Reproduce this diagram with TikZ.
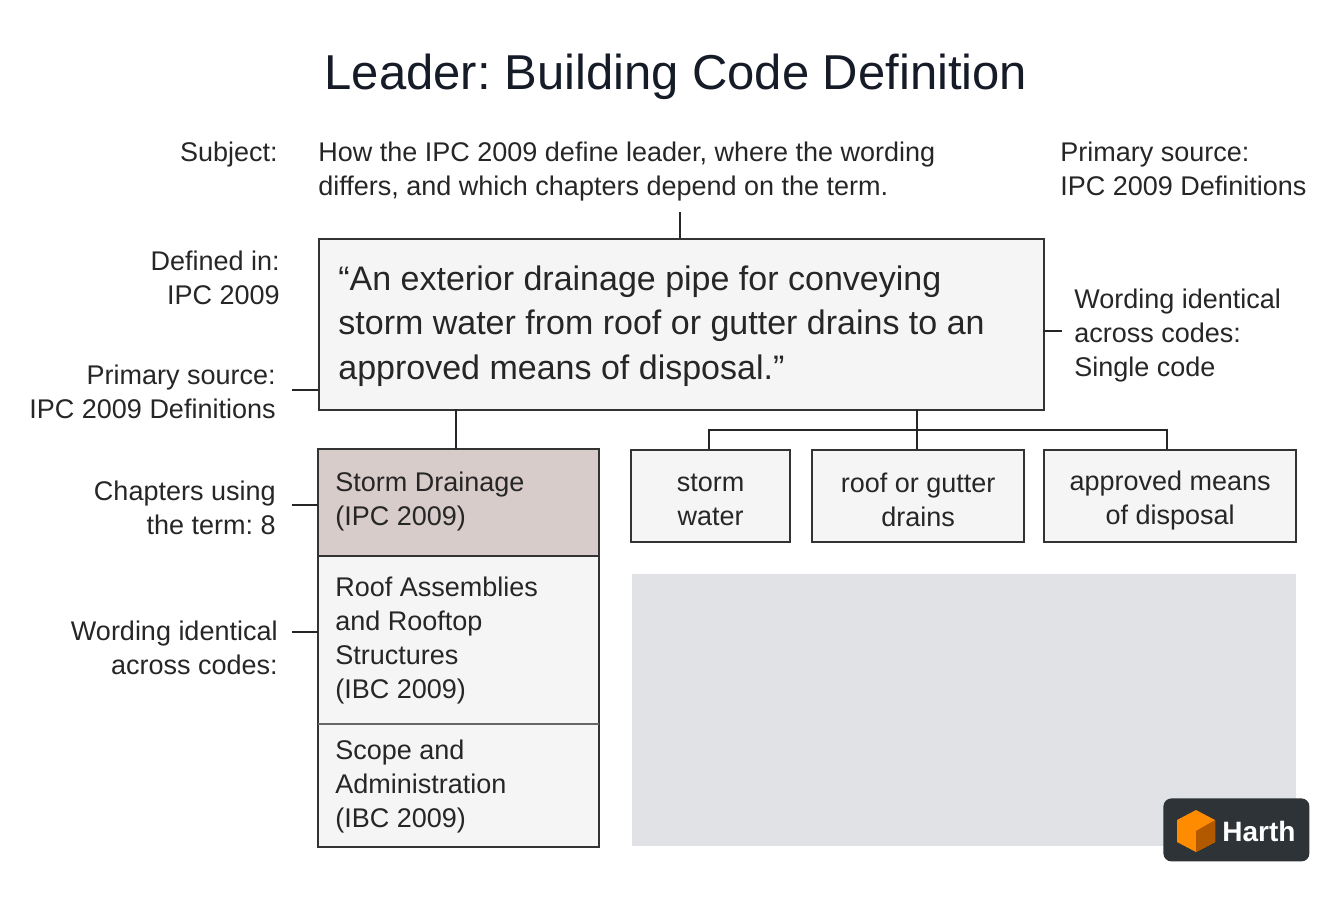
\documentclass[tikz,border=0pt]{standalone}
\usepackage{fontspec}
\setmainfont{Liberation Sans}
\frenchspacing
\definecolor{tcol}{RGB}{22,27,40}
\begin{document}
\begin{tikzpicture}[x=0.5pt,y=-0.5pt,
  lab/.style={font=\fontsize{13.5}{17}\selectfont,text=black!85,inner sep=0pt},
  box/.style={draw=black!80,line width=1.1pt,fill=white!96!black,inner sep=0pt},
  ln/.style={draw=black!85,line width=1pt}]
\useasboundingbox (0,0) rectangle (1344,896);
\fill[white] (0,0) rectangle (1344,896);
\node[font=\fontsize{24.5}{30}\selectfont,text=tcol] (title) at (676,77) {Leader: Building Code Definition};
\node[lab,anchor=east,align=right] (subj) at (278,155) {Subject:};
\node[lab,anchor=north west,align=left] (subjt) at (318,142) {How the IPC 2009 define leader, where the wording\\differs, and which chapters depend on the term.};
\node[lab,anchor=north west,align=left] (ps1) at (1060,142) {Primary source:\\IPC 2009 Definitions};
% main box
\node[box,minimum width=362.5pt,minimum height=85.5pt,anchor=north west] (main) at (318,238) {};
\node[anchor=north west,align=left,inner sep=0pt,font=\fontsize{17}{22.3}\selectfont,text=black!85] (quote) at (338,265) {“An exterior drainage pipe for conveying\\storm water from roof or gutter drains to an\\approved means of disposal.”};
\coordinate (tt) at (680,212);
\draw[ln] (tt) -- (main.north -| tt);
\node[lab,anchor=north east,align=right] (def) at (280,251) {Defined in:\\IPC 2009};
\node[lab,anchor=north east,align=right] (ps2) at (276,365) {Primary source:\\IPC 2009 Definitions};
\coordinate (ps2t) at (292,390);
\draw[ln] (ps2t) -- (318,390);
\node[lab,anchor=north west,align=left] (wid) at (1074,289) {Wording identical\\across codes:\\Single code};
\coordinate (widt) at (1062,331);
\draw[ln] (1043,331) -- (widt);
% left column
\fill[white!96!black] (318,449) rectangle (599,847);
\fill[fill={rgb,255:red,216;green,204;blue,202}] (319,450) rectangle (598,556);
\draw[black!80,line width=1.1pt] (318,449) rectangle (599,847);
\draw[black!80,line width=1pt] (318,556) -- (599,556);
\draw[black!60,line width=0.8pt] (318,724) -- (599,724);
\node[lab,anchor=north west,align=left] (c1) at (335,472) {Storm Drainage\\(IPC 2009)};
\node[lab,anchor=north west,align=left] (c2) at (335,577) {Roof Assemblies\\and Rooftop\\Structures\\(IBC 2009)};
\node[lab,anchor=north west,align=left] (c3) at (335,740) {Scope and\\Administration\\(IBC 2009)};
\draw[ln] (456,409) -- (456,449);
\node[lab,anchor=north east,align=right] (cu) at (276,481) {Chapters using\\the term: 8};
\draw[ln] (292,505) -- (318,505);
\node[lab,anchor=north east,align=right] (wi2) at (278,621) {Wording identical\\across codes:};
\draw[ln] (292,632) -- (318,632);
% tree
\node[box,minimum width=79.5pt,minimum height=46pt,anchor=north west] (b1) at (630,449) {};
\node[lab,align=center] at ([yshift=-2pt]b1.center) {storm\\water};
\node[box,minimum width=106pt,minimum height=46pt,anchor=north west] (b2) at (811,449) {};
\node[lab,align=center] at ([yshift=-2pt]b2.center) {roof or gutter\\drains};
\node[box,minimum width=126pt,minimum height=46pt,anchor=north west] (b3) at (1043,449) {};
\node[lab,align=center] at ([yshift=-2pt]b3.center) {approved means\\of disposal};
\draw[ln] (917,409) -- (917,430);
\draw[ln] (709,449) -- (709,430) -- (1167,430) -- (1167,449);
\draw[ln] (917,430) -- (917,449);
% gray
\fill[fill={rgb,255:red,225;green,226;blue,230}] (632,574) rectangle (1296,846);
% logo
\node[fill={rgb,255:red,46;green,51;blue,56},rounded corners=4pt,minimum width=73pt,minimum height=31.5pt,anchor=north west] (logo) at (1163,798) {};
\fill[orange!90!yellow] (1177,820) -- (1196,810) -- (1215,820) -- (1215,842) -- (1196,852) -- (1177,842) -- cycle;
\fill[orange!70!black] (1196,831) -- (1215,820) -- (1215,842) -- (1196,852) -- cycle;
\node[anchor=west,text=white,font=\fontsize{14}{16}\selectfont\bfseries,inner sep=0pt] (lt) at (1222,831) {Harth};
\end{tikzpicture}
\end{document}
